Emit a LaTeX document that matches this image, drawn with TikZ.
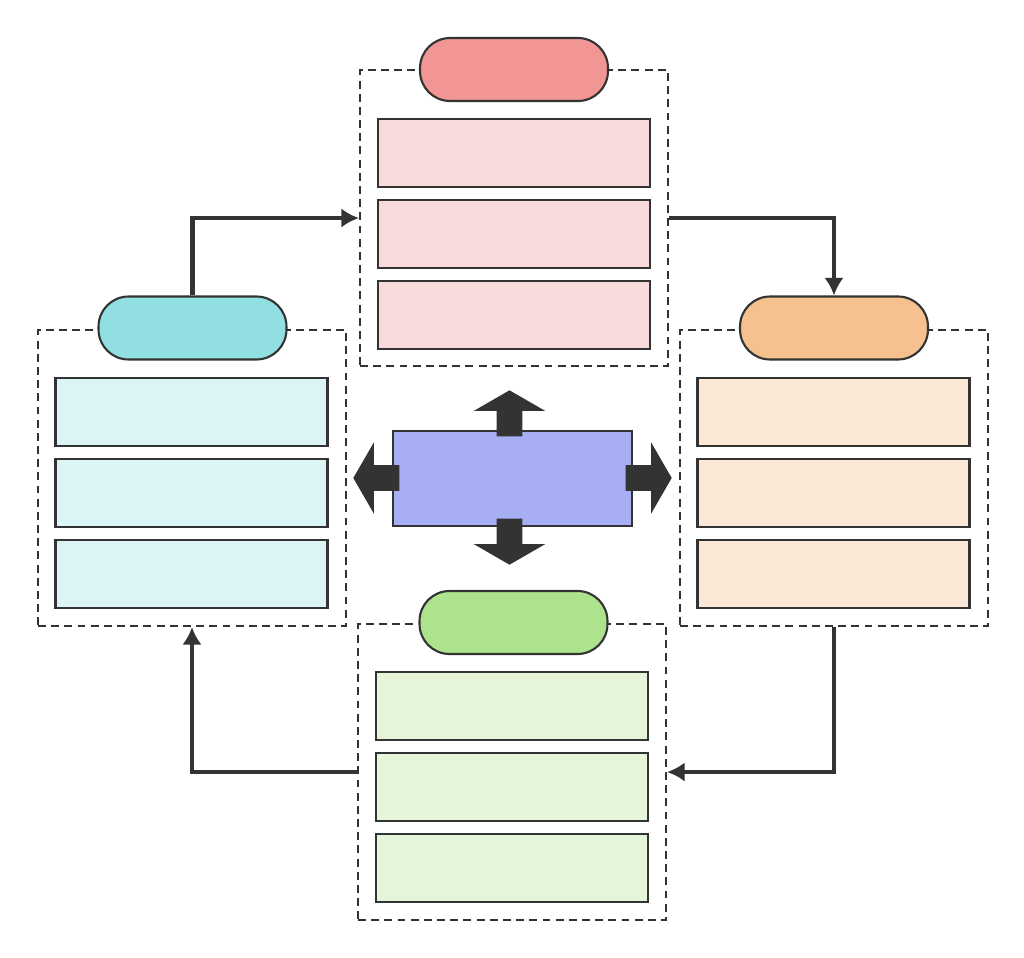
\documentclass[tikz,border=0pt]{standalone}
\usepackage{xcolor}
\usetikzlibrary{shapes.arrows,positioning,arrows.meta}
\definecolor{linec}{HTML}{333333}
\definecolor{redpill}{HTML}{F19595}
\definecolor{redbox}{HTML}{F9DADA}
\definecolor{cyanpill}{HTML}{92DFE1}
\definecolor{cyanbox}{HTML}{DBF4F5}
\definecolor{orangepill}{HTML}{F5C18E}
\definecolor{orangebox}{HTML}{FBE8D7}
\definecolor{greenpill}{HTML}{AEE38E}
\definecolor{greenbox}{HTML}{E4F5DA}
\definecolor{hubc}{HTML}{A8AEF3}
\begin{document}
\begin{tikzpicture}[
    x=0.02cm, y=-0.02cm,
    group/.style={draw=linec, dash pattern=on 4.5pt off 3pt, line width=1.2pt, minimum width=6.16cm, minimum height=5.92cm, inner sep=0pt},
    pill/.style={draw=linec, line width=1.2pt, rounded corners=0.6cm, minimum width=3.76cm, minimum height=1.26cm, inner sep=0pt},
    item/.style={draw=linec, line width=1.2pt, minimum width=5.44cm, minimum height=1.36cm, inner sep=0pt},
    hub/.style={draw=linec, line width=1.2pt, fill=hubc, minimum width=4.78cm, minimum height=1.9cm, inner sep=0pt},
    blockarrow/.style={single arrow, fill=linec, inner sep=0.25cm, single arrow head extend=0.46cm, single arrow tip angle=120, minimum height=0.92cm},
    arrow/.style={->, >={Latex[length=10pt,width=11pt]}, line width=2.8pt, draw=linec}
]
    \useasboundingbox (0,0) rectangle (1024,957);

    % Groups
    \node[group] (gtop) at (514,218) {};
    \node[group] (gleft) at (192,478) {};
    \node[group] (gright) at (834,478) {};
    \node[group] (gbot) at (512,772) {};

    % Title pills
    \node[pill, fill=redpill] (ptop) at (514,69.5) {};
    \node[pill, fill=cyanpill] (pleft) at (192.5,328) {};
    \node[pill, fill=orangepill] (pright) at (834,328) {};
    \node[pill, fill=greenpill] (pbot) at (513.5,622.5) {};

    % Items
    \foreach \i/\y in {1/153, 2/234, 3/315}
        \node[item, fill=redbox] (top\i) at (514,\y) {};
    \foreach \i/\y in {1/412, 2/493, 3/574} {
        \node[item, fill=cyanbox] (left\i) at (191.5,\y) {};
        \node[item, fill=orangebox] (right\i) at (833.5,\y) {};
    }
    \foreach \i/\y in {1/706, 2/787, 3/868}
        \node[item, fill=greenbox] (bot\i) at (512,\y) {};

    % Centre
    \node[hub] (hub) at (512.5,478.5) {};
    \node[blockarrow, shape border rotate=90] (aup) at (509.5,417) {};
    \node[blockarrow, shape border rotate=270] (adown) at (509.5,538) {};
    \node[blockarrow, shape border rotate=180] (aleft) at (380,478) {};
    \node[blockarrow] (aright) at (645,478) {};

    % Cycle
    \draw[arrow] (pleft.north) |- (gtop.west);
    \draw[arrow] (gtop.east) -| (pright.north);
    \draw[arrow] (gright.south) |- (gbot.east);
    \draw[arrow] (gbot.west) -| (gleft.south);
\end{tikzpicture}
\end{document}
